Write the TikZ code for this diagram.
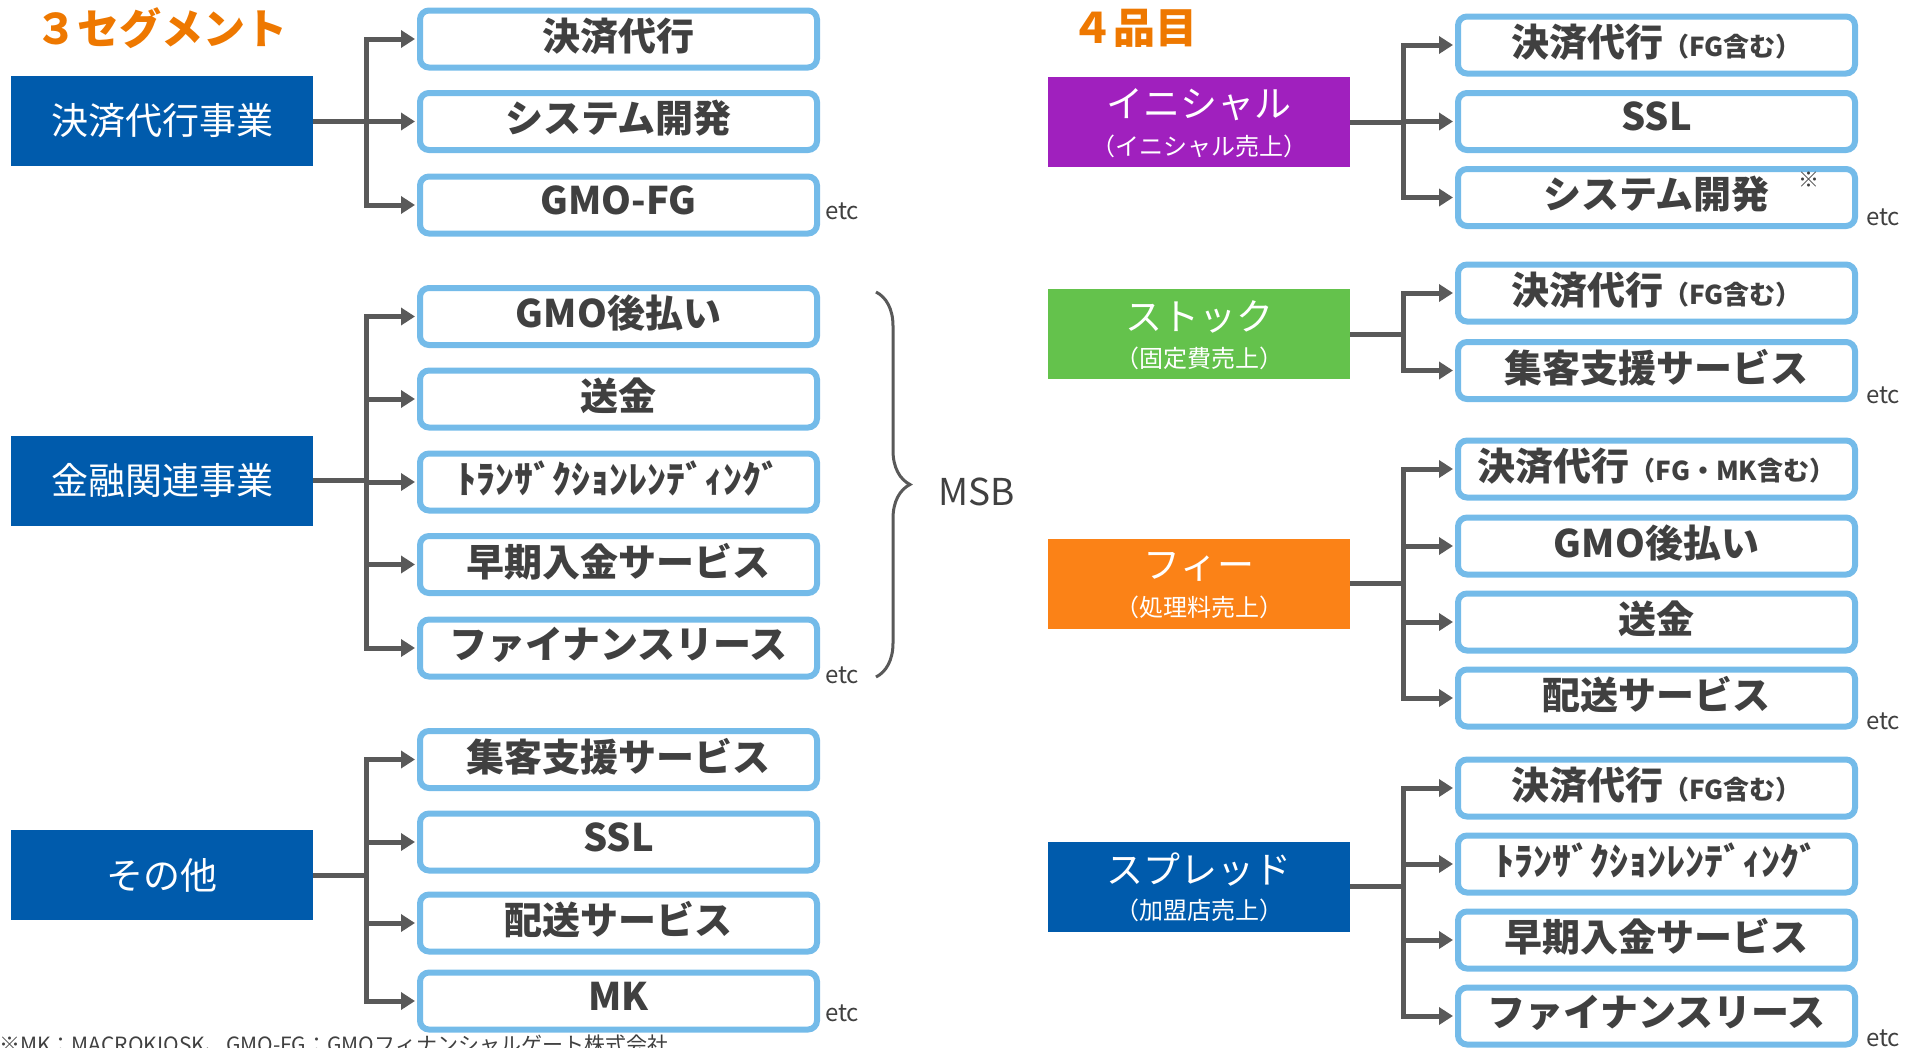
\documentclass[tikz,border=0pt]{standalone}
\usepackage{fontspec}
\setmainfont{Noto Sans CJK JP}
\usetikzlibrary{arrows.meta,decorations.pathreplacing}
\definecolor{segblue}{HTML}{005BAC}
\definecolor{segpurple}{HTML}{A020BE}
\definecolor{seggreen}{HTML}{64C24C}
\definecolor{segorange}{HTML}{FB8217}
\definecolor{titleorange}{HTML}{EE7800}
\definecolor{cblue}{HTML}{74BBE9}
\definecolor{lgray}{HTML}{595959}
\definecolor{tgray}{HTML}{404040}
\newcommand\fsA{\fontsize{37pt}{44pt}\selectfont}
\newcommand\fsB{\fontsize{38pt}{45pt}\selectfont}
\newcommand\fsC{\fontsize{24pt}{29pt}\selectfont}
\newcommand\fsP{\fontsize{26pt}{31pt}\selectfont}
\newcommand\fsT{\fontsize{42pt}{50pt}\selectfont}
\newcommand\fsE{\fontsize{24pt}{29pt}\selectfont}
\newcommand\fsN{\fontsize{21pt}{25pt}\selectfont}
\begin{document}
\begin{tikzpicture}[x=1pt,y=-1pt,
  child/.style={draw=cblue, line width=6pt, rounded corners=9pt, fill=white,
    minimum width=397pt, minimum height=57pt, inner sep=0pt, text=tgray, font=\fsB\bfseries,
    text depth=10pt},
  parent/.style={fill=#1, minimum width=302pt, minimum height=90pt, inner sep=0pt, text=white, font=\fsA},
  ptext/.style={text=white, font=\fsA, inner sep=0pt},
  psub/.style={text=white, font=\fsC, inner sep=0pt},
  conn/.style={draw=lgray, line width=5pt},
  trunk/.style={conn, line cap=rect},
  arr/.style={conn, -{Triangle[length=14pt,width=17pt]}, shorten >=2pt},
  etc/.style={text=tgray, font=\fsE, inner sep=0pt, anchor=base west},
  ttl/.style={text=titleorange, font=\fsT\bfseries, inner sep=0pt}]
\useasboundingbox (0,0) rectangle (1924,1047);
\clip (0,0) rectangle (1924,1047);

% titles
\node[ttl] (t1) at (161,28) {３セグメント};
\node[ttl] (t2) at (1134,28) {４品目};

% ---------- left side ----------
\node[parent=segblue] (pA) at (162,121) {決済代行事業};
\node[parent=segblue] (pB) at (162,480.5) {金融関連事業};
\node[parent=segblue] (pC) at (162,875) {その他};

\node[child] (a1) at (618.5,39) {決済代行};
\node[child] (a2) at (618.5,121.5) {システム開発};
\node[child] (a3) at (618.5,205) {GMO-FG};

\node[child] (b1) at (618.5,316.5) {GMO後払い};
\node[child] (b2) at (618.5,399) {送金};
\node[child] (b3) at (618.5,482) {ﾄﾗﾝｻﾞｸｼｮﾝﾚﾝﾃﾞｨﾝｸﾞ};
\node[child] (b4) at (618.5,564.5) {早期入金サービス};
\node[child] (b5) at (618.5,648) {ファイナンスリース};

\node[child] (c1) at (618.5,759.5) {集客支援サービス};
\node[child] (c2) at (618.5,842) {SSL};
\node[child] (c3) at (618.5,923) {配送サービス};
\node[child] (c4) at (618.5,1001) {MK};

\coordinate (tL) at (366,0);
\coordinate (tR) at (1403,0);

\draw[conn] (pA.east) -- (pA.east -| tL);
\draw[trunk] (a1.west -| tL) -- (a3.west -| tL);
\foreach \c in {a1,a2,a3} \draw[arr] (\c.west -| tL) -- (\c.west);

\draw[conn] (pB.east) -- (pB.east -| tL);
\draw[trunk] (b1.west -| tL) -- (b5.west -| tL);
\foreach \c in {b1,b2,b3,b4,b5} \draw[arr] (\c.west -| tL) -- (\c.west);

\draw[conn] (pC.east) -- (pC.east -| tL);
\draw[trunk] (c1.west -| tL) -- (c4.west -| tL);
\foreach \c in {c1,c2,c3,c4} \draw[arr] (\c.west -| tL) -- (\c.west);

\node[etc] (e1) at (825,219) {etc};
\node[etc] (e2) at (825,683) {etc};
\node[etc] (e3) at (825,1021) {etc};

% brace + MSB
\draw[lgray, line width=3pt, decorate, decoration={brace, amplitude=34pt}] (876,292) -- (876,677);
\node[text=tgray, font=\fontsize{37pt}{44pt}\selectfont, inner sep=0pt] (msb) at (977,492) {MSB};

% ---------- right side ----------
\node[parent=segpurple] (pD) at (1199,122) {};
\node[ptext] (pDt) at ([yshift=17pt]pD.center) {イニシャル};
\node[psub] (pDs) at ([yshift=-24pt]pD.center) {（イニシャル売上）};

\node[parent=seggreen] (pE) at (1199,334) {};
\node[ptext] (pEt) at ([yshift=17pt]pE.center) {ストック};
\node[psub] (pEs) at ([yshift=-24pt]pE.center) {（固定費売上）};

\node[parent=segorange] (pF) at (1199,583.5) {};
\node[ptext] (pFt) at ([yshift=17pt]pF.center) {フィー};
\node[psub] (pFs) at ([yshift=-24pt]pF.center) {（処理料売上）};

\node[parent=segblue] (pG) at (1199,886.5) {};
\node[ptext] (pGt) at ([yshift=17pt]pG.center) {スプレッド};
\node[psub] (pGs) at ([yshift=-24pt]pG.center) {（加盟店売上）};

\node[child] (d1) at (1656.5,45) {決済代行{\fsP（FG含む）}};
\node[child] (d2) at (1656.5,121.5) {SSL};
\node[child] (d3) at (1656.5,197.5) {システム開発};
\node[text=tgray, font=\fsN, inner sep=0pt] (kome) at (1809,180) {※};

\node[child] (f1) at (1656.5,293) {決済代行{\fsP（FG含む）}};
\node[child] (f2) at (1656.5,370.5) {集客支援サービス};

\node[child] (g1) at (1656.5,469) {決済代行{\fsP（FG・MK含む）}};
\node[child] (g2) at (1656.5,546) {GMO後払い};
\node[child] (g3) at (1656.5,622) {送金};
\node[child] (g4) at (1656.5,698) {配送サービス};

\node[child] (h1) at (1656.5,788) {決済代行{\fsP（FG含む）}};
\node[child] (h2) at (1656.5,864) {ﾄﾗﾝｻﾞｸｼｮﾝﾚﾝﾃﾞｨﾝｸﾞ};
\node[child] (h3) at (1656.5,940) {早期入金サービス};
\node[child] (h4) at (1656.5,1016) {ファイナンスリース};

\draw[conn] (pD.east) -- (pD.east -| tR);
\draw[trunk] (d1.west -| tR) -- (d3.west -| tR);
\foreach \c in {d1,d2,d3} \draw[arr] (\c.west -| tR) -- (\c.west);

\draw[conn] (pE.east) -- (pE.east -| tR);
\draw[trunk] (f1.west -| tR) -- (f2.west -| tR);
\foreach \c in {f1,f2} \draw[arr] (\c.west -| tR) -- (\c.west);

\draw[conn] (pF.east) -- (pF.east -| tR);
\draw[trunk] (g1.west -| tR) -- (g4.west -| tR);
\foreach \c in {g1,g2,g3,g4} \draw[arr] (\c.west -| tR) -- (\c.west);

\draw[conn] (pG.east) -- (pG.east -| tR);
\draw[trunk] (h1.west -| tR) -- (h4.west -| tR);
\foreach \c in {h1,h2,h3,h4} \draw[arr] (\c.west -| tR) -- (\c.west);

\node[etc] (e4) at (1866,225) {etc};
\node[etc] (e5) at (1866,403) {etc};
\node[etc] (e6) at (1866,729) {etc};
\node[etc] (e7) at (1866,1046) {etc};

% footnote (cut at the bottom edge, as in the reference)
\node[text=tgray, font=\fsN, inner sep=0pt, anchor=base west] (fn) at (-1,1052) {※MK：MACROKIOSK、GMO-FG：GMOフィナンシャルゲート株式会社};
\end{tikzpicture}
\end{document}
